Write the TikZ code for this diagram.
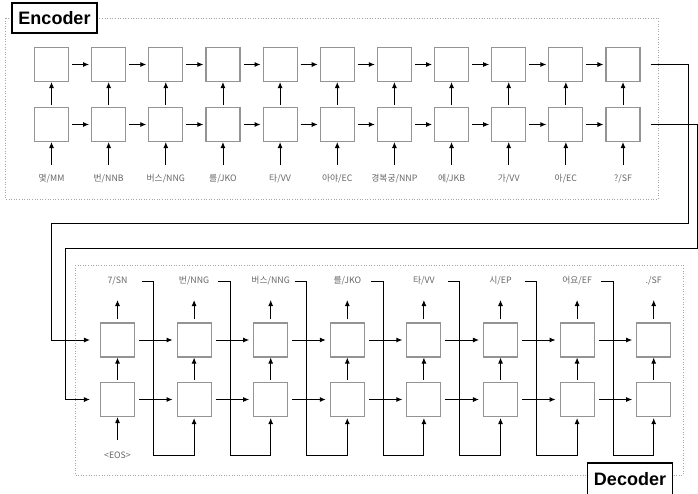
\documentclass[tikz,border=0pt]{standalone}
\usepackage{fontspec}
\setmainfont{Liberation Sans}
\newfontfamily\kr{Noto Sans CJK KR}
\usetikzlibrary{arrows.meta,calc}
\begin{document}
\begin{tikzpicture}[x=1pt,y=-1pt,
 cell/.style={draw=black!42, line width=1.1pt, fill=white, minimum size=34pt, inner sep=0pt},
 arr/.style={-{Latex[length=6pt,width=5pt]}, line width=0.9pt},
 lab/.style={font=\kr\fontsize{8.8}{10}\selectfont, text=black!60, inner sep=1pt},
 frame/.style={draw=black!35, dotted, line width=0.6pt},
 title/.style={draw=black, line width=1.1pt, fill=white, font=\bfseries\fontsize{18}{20}\selectfont, inner sep=0pt, minimum height=30pt, minimum width=85pt}]
\useasboundingbox (0,0) rectangle (698,493);
% frames
\draw[frame] (5,18) rectangle (658,199);
\draw[frame] (75,265) rectangle (683,475);
% encoder cells
\foreach \i in {1,...,11}{
  \pgfmathsetmacro\xx{51.5+57.15*(\i-1)}
  \node[cell] (et\i) at (\xx,64.5) {};
  \node[cell] (eb\i) at (\xx,124.5) {};
  \draw[arr, shorten <=2pt] (eb\i) -- (et\i);
}
\foreach \i/\t in {1/{몇/MM},2/{번/NNB},3/{버스/NNG},4/{를/JKO},5/{타/VV},6/{아야/EC},7/{경복궁/NNP},8/{에/JKB},9/{가/VV},10/{아/EC},11/{?/SF}}{
  \pgfmathsetmacro\xx{51.5+57.15*(\i-1)}
  \node[lab] (el\i) at (\xx,179) {\t};
  \draw[arr] ([yshift=14pt]el\i.center) -- (eb\i);
}
\foreach \i in {1,...,10}{
  \pgfmathtruncatemacro\j{\i+1}
  \draw[arr, shorten <=3pt, shorten >=2pt] (et\i) -- (et\j);
  \draw[arr, shorten <=3pt, shorten >=2pt] (eb\i) -- (eb\j);
}
% decoder cells
\foreach \i in {1,...,8}{
  \pgfmathsetmacro\xx{117.5+76.6*(\i-1)}
  \node[cell] (dt\i) at (\xx,340) {};
  \node[cell] (db\i) at (\xx,399.5) {};
  \draw[arr, shorten <=2pt] (db\i) -- (dt\i);
}
\foreach \i/\t in {1/{7/SN},2/{번/NNG},3/{버스/NNG},4/{를/JKO},5/{타/VV},6/{시/EP},7/{어요/EF},8/{./SF}}{
  \pgfmathsetmacro\xx{117.5+76.6*(\i-1)}
  \node[lab] (dl\i) at (\xx,281) {\t};
  \draw[arr, shorten <=3pt] (dt\i) -- ([yshift=-19pt]dl\i.center);
}
\foreach \i in {1,...,7}{
  \pgfmathtruncatemacro\j{\i+1}
  \draw[arr, shorten <=4pt, shorten >=4pt] (dt\i) -- (dt\j);
  \draw[arr, shorten <=4pt, shorten >=4pt] (db\i) -- (db\j);
  \draw[arr, shorten >=1pt] ([xshift=24pt]dl\i.center) -- ++(12,0) |- ([yshift=-38pt]db\j.south) -- (db\j);
}
\node[lab] (eos) at (117.5,455) {<EOS>};
\draw[arr] ([yshift=15pt]eos.center) -- (db1);
% encoder to decoder
\draw[arr, shorten >=10pt] ([xshift=10pt]et11.east) -| (688,223) -| ([xshift=-49pt]dt1.west) -- (dt1.west);
\draw[arr, shorten >=10pt] ([xshift=10pt]eb11.east) -| (697.5,248) -| ([xshift=-35pt]db1.west) -- (db1.west);
% titles
\node[title] (enc) at (54.5,18) {Encoder};
\node[title, minimum height=32pt] (dec) at (630,479) {Decoder};
\end{tikzpicture}
\end{document}
